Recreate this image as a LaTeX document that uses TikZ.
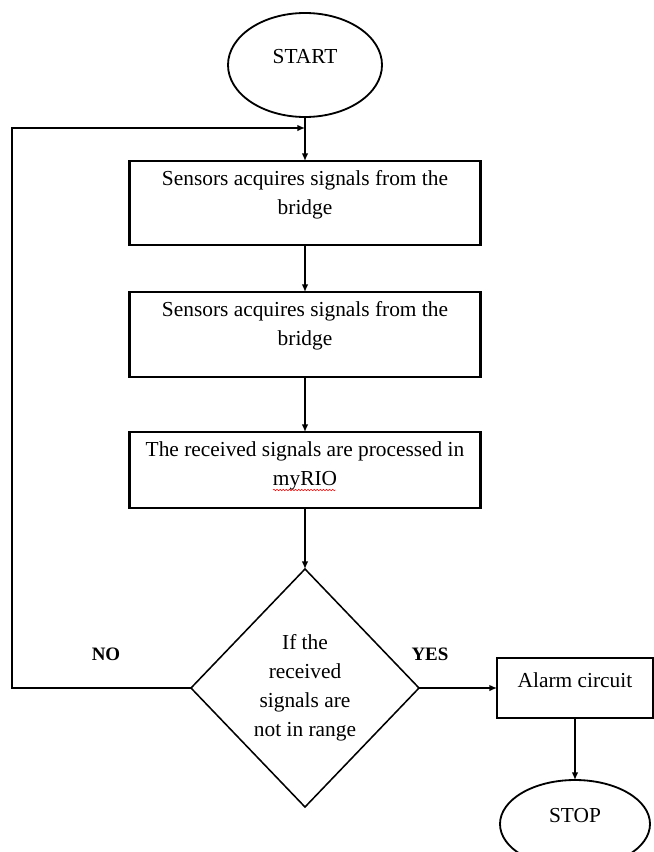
\documentclass[tikz,border=0pt]{standalone}
\usepackage{fontspec}
\setmainfont{Liberation Serif}
\usepackage{tikz}
\usetikzlibrary{shapes,arrows,arrows.meta,positioning,calc,decorations.pathmorphing}

\newcommand{\toptext}[3]{\parbox[c][#1][t]{#2}{\centering\vspace*{0.24cm}#3}}

\begin{document}
\begin{tikzpicture}[auto, node distance=1cm]
  \tikzset{align=center,outer sep=0pt,font=\fontsize{15.2}{20.6}\selectfont}
  \tikzset{term/.style = {shape=ellipse,draw,line width=1.3pt,inner sep=0pt,text depth=0.45cm}}
  \tikzset{process/.style = {shape=rectangle,draw,line width=1.8pt,inner sep=0pt,minimum width=8.775cm}}
  \tikzset{decision/.style = {shape=diamond,draw,line width=1.1pt,inner sep=0pt,minimum width=5.7cm,minimum height=5.95cm}}
  \tikzset{answer/.style = {font=\fontsize{13.5}{16}\selectfont\bfseries}}
  \tikzset{flow/.style = {draw=black,line width=0.9pt,->,> = {Latex[length=0.19cm,width=0.16cm]}}}

  \useasboundingbox (0,0) rectangle (16.35,-21.3);

  \node[term,minimum width=3.85cm,minimum height=2.6cm] (start) at (7.625,-1.625) {START};
  \node[process] (s1) [below=1.1cm of start] {\toptext{2.1cm}{8.6cm}{Sensors acquires signals from the\\ bridge}};
  \node[process] (s2) [below=1.175cm of s1] {\toptext{2.125cm}{8.6cm}{Sensors acquires signals from the\\ bridge}};
  \node[process] (s3) [below=1.375cm of s2] {\toptext{1.9cm}{8.6cm}{The received signals are processed in\\ myRIO}};
  \node[decision] (dec) [below=1.525cm of s3] {If the\\ received\\ signals are\\ not in range};
  \node[process,minimum width=3.9cm,minimum height=1.5cm,text depth=0.4cm] (alarm) [right=1.95cm of dec] {Alarm circuit};
  \node[term,minimum width=3.75cm,minimum height=2.2cm] (stop) [below=1.55cm of alarm] {STOP};

  \node[answer] (no) at ($(dec.west)+(-2.125,0.85)$) {NO};
  \node[answer] (yes) at ($(dec.east)+(0.275,0.85)$) {YES};

  \coordinate (loop) at ($(start.south)!0.25!(s1.north)$);
  \coordinate (rail) at (0.3,0);

  \path[every edge/.style={flow}]
  (start) edge (s1)
  (s1) edge (s2)
  (s2) edge (s3)
  (s3) edge (dec)
  (dec) edge (alarm)
  (alarm) edge (stop)
  ;
  \draw[flow] (dec.west) -- (dec.west -| rail) |- (loop);

  % spell-check mark under myRIO
  \draw[red,line width=0.4pt,decorate,decoration={snake,amplitude=0.5pt,segment length=2.2pt}]
  ($(s3.south)+(-0.8,0.45)$) -- ($(s3.south)+(0.76,0.45)$);
\end{tikzpicture}
\end{document}
